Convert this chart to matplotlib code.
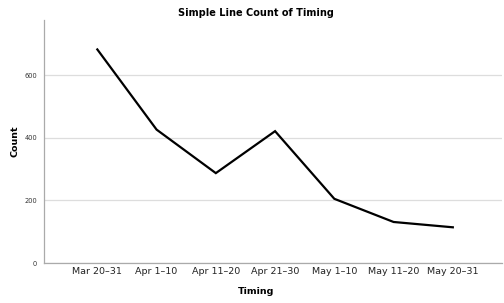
import matplotlib
matplotlib.use("Agg")
import matplotlib.pyplot as plt

categories = ["Mar 20\u201331", "Apr 1\u201310", "Apr 11\u201320", "Apr 21\u201330",
              "May 1\u201310", "May 11\u201320", "May 20\u201331"]
counts = [682, 426, 287, 421, 205, 131, 114]
yticks = [0, 200, 400, 600]

fig = plt.figure(figsize=(5.04, 3.03), dpi=100)
ax = fig.add_axes([44/504, 40/303, 458/504, 243/303])
x = list(range(len(categories)))
ax.plot(x, counts, color="black", lw=1.6, solid_joinstyle="miter")
ax.set_xlim(-0.9, 6.83)
ax.set_ylim(0, 776)
ax.set_xticks(x)
ax.set_xticklabels(categories, fontsize=6.8, color="#222222")
ax.set_yticks(yticks)
ax.set_yticklabels([str(v) for v in yticks], fontsize=4.8, color="#333333")
ax.tick_params(axis="both", length=0, pad=3)
ax.tick_params(axis="y", pad=5)
ax.yaxis.grid(True, color="#dddddd", lw=0.9)
ax.set_axisbelow(True)
for s in ["top", "right"]:
    ax.spines[s].set_visible(False)
for s in ["left", "bottom"]:
    ax.spines[s].set_color("#aaaaaa")
    ax.spines[s].set_linewidth(0.9)
fig.text(256/504, 1 - 291/303, "Timing", ha="center", va="center",
         fontsize=6.8, fontweight="bold")
fig.text(15/504, 1 - 141/303, "Count", ha="center", va="center", rotation=90,
         fontsize=6.8, fontweight="bold")
fig.text(256/504, 1 - 13/303, "Simple Line Count of Timing", ha="center", va="center",
         fontsize=7, fontweight="bold")
fig.savefig("out.png", dpi=100)
